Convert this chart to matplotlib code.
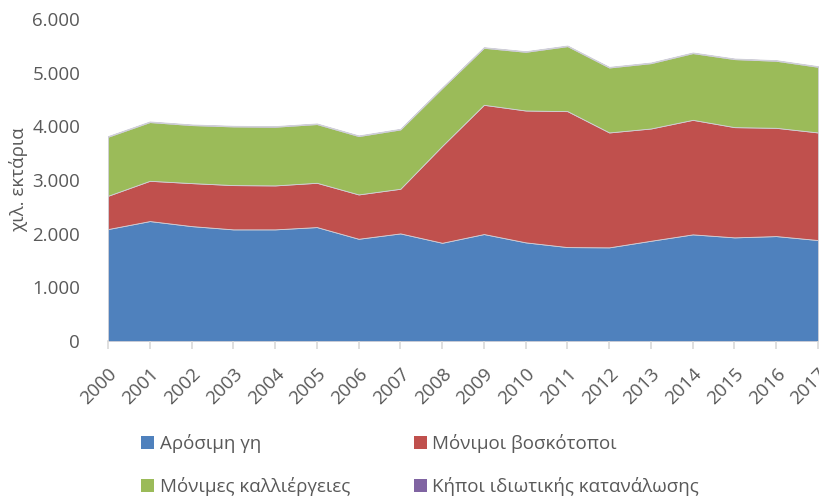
import numpy as np
import matplotlib
matplotlib.use("Agg")
import matplotlib.pyplot as plt
from matplotlib.patches import Patch
from matplotlib.ticker import FuncFormatter

plt.rcParams['font.family'] = ['Open Sans', 'DejaVu Sans']

# data (thousand hectares)
years = list(range(2000, 2018))
arable = [2086, 2235, 2141, 2080, 2080, 2123, 1905, 2005, 1830, 1993,
          1838, 1750, 1745, 1868, 1987, 1931, 1955, 1881]
pasture = [620, 750, 801, 825, 819, 825, 826, 832, 1805, 2408,
           2457, 2533, 2141, 2092, 2134, 2054, 2017, 2005]
crops = [1100, 1094, 1081, 1093, 1093, 1094, 1087, 1105, 1077, 1062,
         1093, 1211, 1210, 1217, 1243, 1267, 1249, 1223]
gardens = [12, 12, 12, 12, 12, 12, 12, 12, 12, 12,
           12, 12, 12, 12, 12, 12, 12, 12]
labels = ['Αρόσιμη γη', 'Μόνιμοι βοσκότοποι',
          'Μόνιμες καλλιέργειες', 'Κήποι ιδιωτικής κατανάλωσης']
colors = ['#4F81BD', '#C0504D', '#9BBB59', '#8064A2']

text_col = '#595959'

fig = plt.figure(figsize=(8.2, 4.97), dpi=100)
ax = fig.add_axes([108/820, 1 - 341/497, 710/820, 322/497])

ax.stackplot(years, arable, pasture, crops, gardens, colors=colors,
             linewidth=0.6, edgecolor='#d0d0d8')

ax.set_xlim(years[0], years[-1])
ax.set_ylim(0, 6000)
ax.set_yticks(range(0, 6001, 1000))
ax.yaxis.set_major_formatter(FuncFormatter(lambda v, p: f'{int(v):,}'.replace(',', '.')))
ax.set_xticks(years)
ax.set_xticklabels([str(y) for y in years], rotation=45, ha='right',
                   rotation_mode='anchor')

for s in ['top', 'right', 'left']:
    ax.spines[s].set_visible(False)
ax.spines['bottom'].set_color('#d9d9d9')
ax.spines['bottom'].set_linewidth(1.2)
ax.spines['bottom'].set_zorder(0)
ax.tick_params(axis='x', colors='#d9d9d9', length=6, width=1.2,
               labelcolor=text_col, labelsize=13.5, pad=11)
ax.tick_params(axis='y', length=0, labelcolor=text_col, labelsize=13.5, pad=20)
ax.set_ylabel('χιλ. εκτάρια', color=text_col, fontsize=13.5)
ax.yaxis.set_label_coords(-80/710, 0.5)

# legend filled row by row, as in the original
order = [0, 2, 1, 3]
handles = [Patch(facecolor=colors[i]) for i in order]
fig.legend(handles, [labels[i] for i in order], loc='upper left', ncol=2,
           bbox_to_anchor=(124/820, 1 - 417/497), frameon=False,
           fontsize=13.5, labelcolor=text_col, handlelength=0.7,
           handleheight=0.7, handletextpad=0.3, columnspacing=3.4,
           labelspacing=1.3)

fig.savefig('out.png', dpi=100)
